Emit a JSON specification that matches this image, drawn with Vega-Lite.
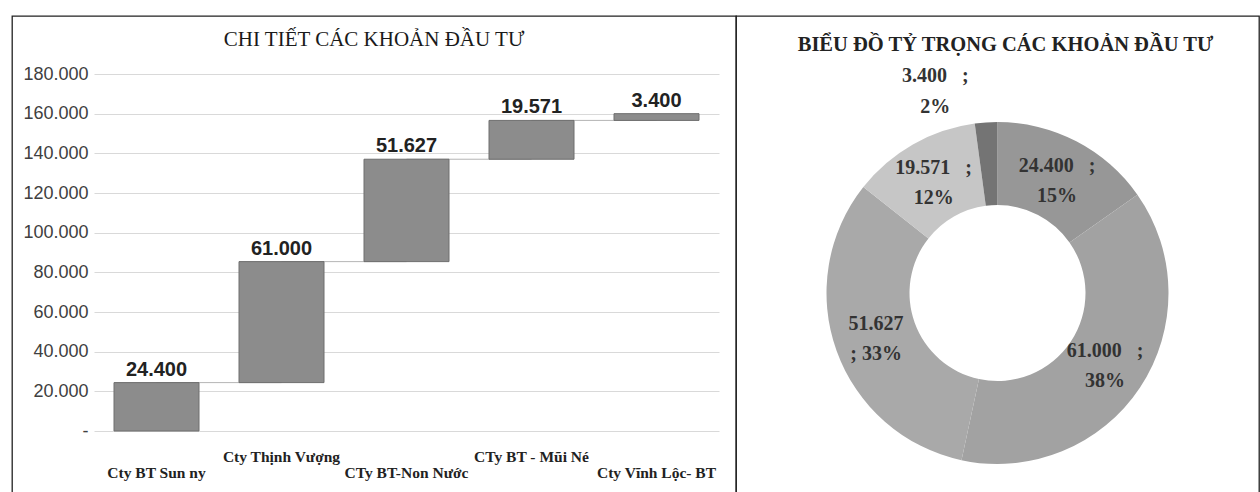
{
  "$schema": "https://vega.github.io/schema/vega-lite/v6.json",
  "padding": {"left": 11, "top": 15, "right": 0, "bottom": 0},
  "background": "white",
  "bounds": "flush",
  "spacing": 0,
  "config": {
    "locale": {"number": {"decimal": ",", "thousands": ".", "grouping": [3], "currency": ["", ""]}},
    "view": {"stroke": "#222222", "strokeWidth": 1.3}
  },
  "datasets": {
    "inv": [
      {"k": 1, "name": "Cty BT Sun ny", "value": 24400, "start": 0, "end": 24400, "next": "Cty Thịnh Vượng", "pct": 15},
      {"k": 2, "name": "Cty Thịnh Vượng", "value": 61000, "start": 24400, "end": 85400, "next": "CTy BT-Non Nước", "pct": 38},
      {"k": 3, "name": "CTy BT-Non Nước", "value": 51627, "start": 85400, "end": 137027, "next": "CTy BT - Mũi Né", "pct": 33},
      {"k": 4, "name": "CTy BT - Mũi Né", "value": 19571, "start": 137027, "end": 156598, "next": "Cty Vĩnh Lộc- BT", "pct": 12},
      {"k": 5, "name": "Cty Vĩnh Lộc- BT", "value": 3400, "start": 156598, "end": 159998, "next": null, "pct": 2}
    ]
  },
  "hconcat": [
    {
      "width": 724,
      "height": 554,
      "view": {"stroke": "#222222", "strokeWidth": 1.3},
      "title": {"text": "CHI TIẾT CÁC KHOẢN ĐẦU TƯ", "font": "Liberation Serif", "fontSize": 21, "fontWeight": "normal", "color": "#1a1a1a", "offset": -45, "baseline": "middle", "anchor": "middle"},
      "data": {"name": "inv"},
      "encoding": {
        "x": {
          "field": "name", "type": "nominal", "sort": null,
          "scale": {"paddingInner": 0.32, "paddingOuter": 0.16, "range": [82, 707]},
          "axis": {
            "title": null, "domain": false, "ticks": false, "labelAngle": 0, "offset": -139,
            "labelFont": "Liberation Serif", "labelFontWeight": "bold", "labelFontSize": 15.5,
            "labelColor": "#222222", "labelPadding": 18, "labelLineHeight": 16, "labelLimit": 0,
            "labelBaseline": "top",
            "labelExpr": "(datum.value == 'Cty Thịnh Vượng' || datum.value == 'CTy BT - Mũi Né') ? datum.value : ['', datum.value]"
          }
        }
      },
      "layer": [
        {
          "transform": [{"filter": "datum.next != null"}],
          "mark": {"type": "rule", "color": "#b5b5b5", "strokeWidth": 1},
          "encoding": {
            "x2": {"field": "next"},
            "y": {"field": "end", "type": "quantitative", "title": null}
          }
        },
        {
          "mark": {"type": "bar", "fill": "#8c8c8c", "stroke": "#6e6e6e", "strokeWidth": 1},
          "encoding": {
            "y": {
              "field": "start", "type": "quantitative", "title": null,
              "scale": {"domain": [0, 180000], "nice": false, "zero": true, "range": [415, 58]},
              "axis": {
                "values": [0, 20000, 40000, 60000, 80000, 100000, 120000, 140000, 160000, 180000],
                "labelExpr": "datum.value == 0 ? '-' : format(datum.value, ',')",
                "domain": false, "ticks": false, "grid": true, "gridColor": "#d9d9d9",
                "offset": -77, "minExtent": 0, "maxExtent": 0,
                "labelFont": "Liberation Sans", "labelFontSize": 18, "labelColor": "#404040",
                "labelPadding": 1, "title": null
              }
            },
            "y2": {"field": "end"}
          }
        },
        {
          "mark": {"type": "text", "dy": -13, "fontWeight": "bold", "fontSize": 20, "font": "Liberation Sans Narrow, Liberation Sans", "color": "#222222"},
          "encoding": {
            "y": {"field": "end", "type": "quantitative", "title": null},
            "text": {"field": "value", "type": "quantitative", "format": ","}
          }
        }
      ]
    },
    {
      "width": 523,
      "height": 554,
      "view": {"stroke": "#222222", "strokeWidth": 1.3},
      "title": {"text": "BIỂU ĐỒ TỶ TRỌNG CÁC KHOẢN ĐẦU TƯ", "font": "Liberation Serif", "fontSize": 20.5, "fontWeight": "bold", "color": "#222222", "offset": -49, "baseline": "middle", "anchor": "middle", "dx": 8},
      "data": {"name": "inv"},
      "transform": [
        {"calculate": "datum.k == 3 ? format(datum.value, ',') + '\\n; ' + datum.pct + '%' : format(datum.value, ',') + '\u00a0\u00a0\u00a0;\\n' + datum.pct + '%'", "as": "lbl"}
      ],
      "encoding": {
        "theta": {"field": "value", "type": "quantitative", "stack": true},
        "order": {"field": "k", "type": "quantitative"}
      },
      "layer": [
        {
          "mark": {"type": "arc", "innerRadius": 88, "outerRadius": 171},
          "encoding": {
            "color": {
              "field": "name", "type": "nominal", "legend": null,
              "scale": {
                "domain": ["Cty BT Sun ny", "Cty Thịnh Vượng", "CTy BT-Non Nước", "CTy BT - Mũi Né", "Cty Vĩnh Lộc- BT"],
                "range": ["#979797", "#a2a2a2", "#a9a9a9", "#c6c6c6", "#747474"]
              }
            }
          }
        },
        {
          "mark": {"type": "text", "radius": 129, "dy": -13, "lineBreak": "\n", "font": "Liberation Serif", "fontWeight": "bold", "fontSize": 20, "lineHeight": 30, "color": "#333333", "align": "center", "baseline": "middle"},
          "encoding": {
            "text": {"field": "lbl", "type": "nominal", "condition": {"test": "datum.k == 5", "value": ""}}
          }
        },
        {
          "mark": {"type": "text", "radius": 214, "dx": -48, "dy": -3, "lineBreak": "\n", "font": "Liberation Serif", "fontWeight": "bold", "fontSize": 20, "lineHeight": 31, "color": "#333333", "align": "center", "baseline": "middle"},
          "encoding": {
            "text": {"field": "lbl", "type": "nominal", "condition": {"test": "datum.k != 5", "value": ""}}
          }
        }
      ]
    }
  ]
}
